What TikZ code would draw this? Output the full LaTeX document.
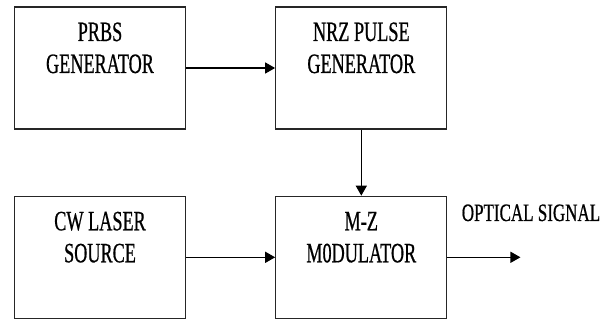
\documentclass[tikz,border=0pt]{standalone}
\usepackage{fontspec}
\setmainfont{Liberation Serif}
\newfontfamily\blockfont{Liberation Serif}[FakeStretch=0.65, FakeBold=0.6]
\newfontfamily\labelfont{Liberation Serif}[FakeStretch=0.68, FakeBold=0.6]
\usetikzlibrary{arrows.meta, positioning}

\begin{document}
\begin{tikzpicture}[
        x=1pt, y=-1pt,
        node distance=66pt and 89pt,
        block/.style={
            draw=black!85,
            line width=1.3pt,
            minimum width=171pt,
            inner xsep=0pt,
            inner ysep=0pt,
            text height=66pt,
            text depth=56pt,
            align=center,
            font=\blockfont\fontsize{28}{32}\selectfont
        },
        signal/.style={-{Triangle[length=10pt, width=11pt]}, line width=1.4pt}
    ]
        \useasboundingbox (0,0) rectangle (613,320);
        \node[block] (prbs) at (100,68) {PRBS\\GENERATOR};
        \node[block, right=of prbs] (nrz) {NRZ PULSE\\GENERATOR};
        \node[block, below=of prbs] (cw) {CW LASER\\SOURCE};
        \node[block, below=of nrz] (mz) {M-Z\\M0DULATOR};
        \coordinate[right=73pt of mz] (out);
        \node[anchor=base, font=\labelfont\fontsize{25}{30}\selectfont] (optsignal) at (531,221) {OPTICAL SIGNAL};

        \draw[signal] (prbs) -- (nrz);
        \draw[signal] (nrz) -- (mz);
        \draw[signal] (cw) -- (mz);
        \draw[signal] (mz) -- (out);
    \end{tikzpicture}
\end{document}
